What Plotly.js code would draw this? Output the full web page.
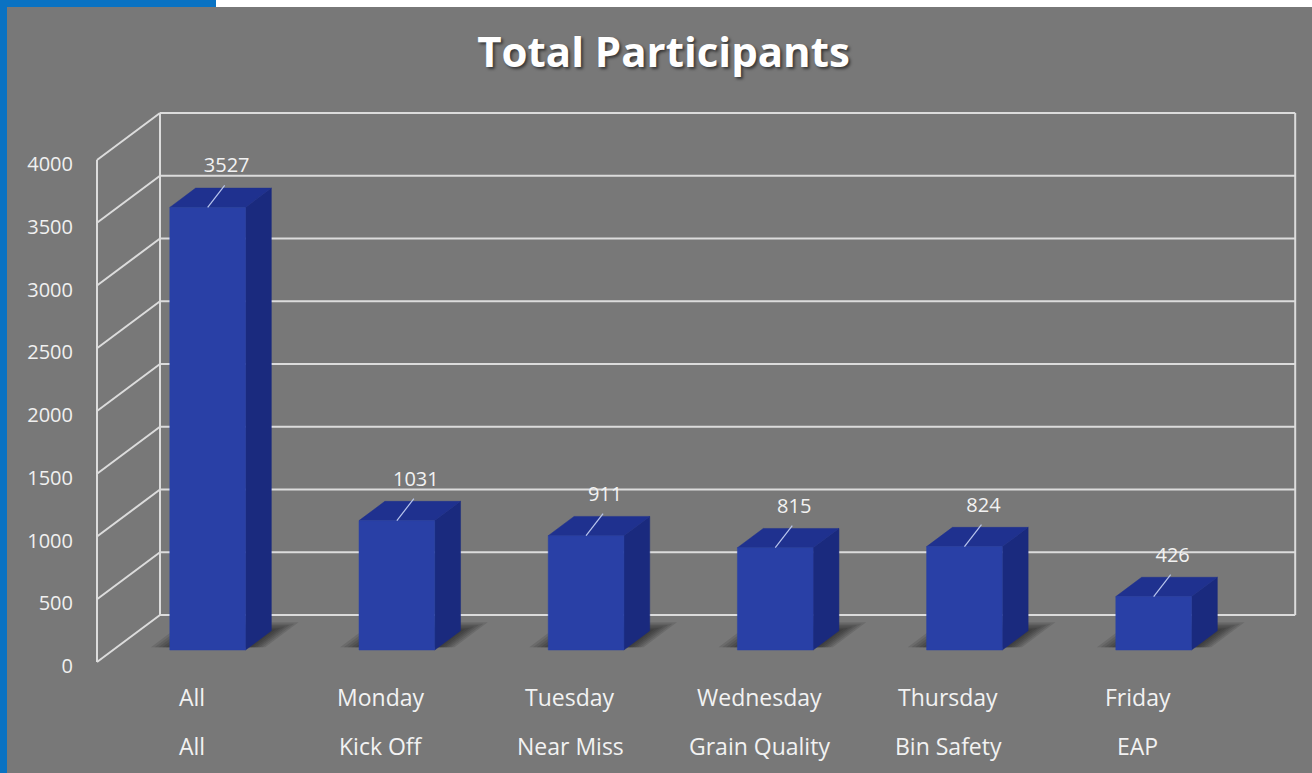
<!DOCTYPE html>
<html>
<head>
<meta charset="utf-8">
<script src="https://cdn.plot.ly/plotly-3.0.1.min.js"></script>
<style>
  html, body { margin: 0; padding: 0; width: 1312px; height: 773px; overflow: hidden; background: #787878; }
  #strip-left { position: absolute; left: 0; top: 0; width: 7px; height: 773px; background: #0a72c2; }
  #strip-top { position: absolute; left: 0; top: 0; width: 216px; height: 7px; background: #0a72c2; }
  #strip-white { position: absolute; left: 216px; top: 0; width: 1096px; height: 7px; background: #ffffff; }
  #chart { position: absolute; left: 0; top: 0; width: 1312px; height: 773px; }
</style>
</head>
<body>
<div id="strip-left"></div>
<div id="strip-top"></div>
<div id="strip-white"></div>
<div id="chart"></div>
<script>
// ---------------- data ----------------
const dayLabels = ['All', 'Monday', 'Tuesday', 'Wednesday', 'Thursday', 'Friday'];
const topicLabels = ['All', 'Kick Off', 'Near Miss', 'Grain Quality', 'Bin Safety', 'EAP'];
const participants = [3527, 1031, 911, 815, 824, 426];
const yTickValues = [0, 500, 1000, 1500, 2000, 2500, 3000, 3500, 4000];
const yTickLabels = ['0', '500', '1000', '1500', '2000', '2500', '3000', '3500', '4000'];

// ---------------- geometry (pseudo 3D projection) ----------------
const W = 1312, H = 773;
const PLOT_L = 90, PLOT_R = 1305, PLOT_T = 95, PLOT_B = 682;
const FRONT_X_PX = 97, FRONT_Y_PX = 662;     // pixel of (x=-0.5, y=0) on the front plane
const PX_PER_X = 189.2, PX_PER_Y = 0.1255;
const DX = 63 / PX_PER_X;                     // full depth offset in x units
const DY = 47 / PX_PER_Y;                     // full depth offset in y units
const D1 = 0.255, D2 = 0.665;                 // bar depth (front / back)
const HW = 0.2;                               // bar half width
const nCat = dayLabels.length;
const yMax = yTickValues[yTickValues.length - 1];

const xRange = [-0.5 - (FRONT_X_PX - PLOT_L) / PX_PER_X, -0.5 + (PLOT_R - FRONT_X_PX) / PX_PER_X];
const yRange = [-(PLOT_B - FRONT_Y_PX) / PX_PER_Y, (FRONT_Y_PX - PLOT_T) / PX_PER_Y];

function P(x, y, d) { return [x + d * DX, y + d * DY]; }

const traces = [];

// walls and gridlines
(function () {
  const xs = [], ys = [];
  const xl = -0.5, xr = nCat - 0.5;
  function seg(a, b) { xs.push(a[0], b[0], null); ys.push(a[1], b[1], null); }
  yTickValues.forEach(v => {
    seg(P(xl, v, 1), P(xr, v, 1));   // back wall gridline
    seg(P(xl, v, 0), P(xl, v, 1));   // side wall gridline
  });
  seg(P(xl, 0, 0), P(xl, yMax, 0));
  seg(P(xl, 0, 1), P(xl, yMax, 1));
  seg(P(xr, 0, 1), P(xr, yMax, 1));
  traces.push({ type: 'scatter', mode: 'lines', x: xs, y: ys, hoverinfo: 'skip',
    line: { color: '#dcdcdc', width: 2 }, showlegend: false, cliponaxis: false });
})();

// soft floor shadows (stacked translucent layers)
for (let k = 6; k >= 1; k--) {
  const xs = [], ys = [];
  const exL = 0.02 * k, exR = 0.014 * k, dBack = 0.03 * k;
  participants.forEach((v, i) => {
    const x0 = i - HW - exL, x1 = i + HW + exR;
    const da = D1 + 0.06, db = D2 + dBack;
    const pts = [P(x0, 0, da), P(x1, 0, da), P(x1, 0, db), P(x0, 0, db), P(x0, 0, da)];
    pts.forEach(p => { xs.push(p[0]); ys.push(p[1]); });
    xs.push(null); ys.push(null);
  });
  traces.push({ type: 'scatter', mode: 'lines', x: xs, y: ys, fill: 'toself',
    fillcolor: 'rgba(20,20,20,0.13)', line: { width: 0, color: 'rgba(0,0,0,0)' },
    hoverinfo: 'skip', showlegend: false });
}

// bars: top, side, front faces
function faceTrace(kind, color) {
  const xs = [], ys = [];
  participants.forEach((v, i) => {
    const x0 = i - HW, x1 = i + HW;
    let pts;
    if (kind === 'front') pts = [P(x0, 0, D1), P(x1, 0, D1), P(x1, v, D1), P(x0, v, D1)];
    if (kind === 'side') pts = [P(x1, 0, D1), P(x1, 0, D2), P(x1, v, D2), P(x1, v, D1)];
    if (kind === 'top') pts = [P(x0, v, D1), P(x1, v, D1), P(x1, v, D2), P(x0, v, D2)];
    pts.push(pts[0]);
    pts.forEach(p => { xs.push(p[0]); ys.push(p[1]); });
    xs.push(null); ys.push(null);
  });
  return { type: 'scatter', mode: 'lines', x: xs, y: ys, fill: 'toself', fillcolor: color,
    line: { width: 0.5, color: color }, hoverinfo: 'skip', showlegend: false };
}
traces.push(faceTrace('side', '#1a2a7e'));
traces.push(faceTrace('top', '#1f318f'));
traces.push(faceTrace('front', '#2940a6'));

// leader lines and value labels
const LEAD_DX = 17 / PX_PER_X, LEAD_DY = 22 / PX_PER_Y;
const LABEL_DX = 19 / PX_PER_X, LABEL_DY = 40 / PX_PER_Y;
(function () {
  const xs = [], ys = [];
  participants.forEach((v, i) => {
    const a = P(i, v, D1);
    xs.push(a[0], a[0] + LEAD_DX, null);
    ys.push(a[1], a[1] + LEAD_DY, null);
  });
  traces.push({ type: 'scatter', mode: 'lines', x: xs, y: ys, hoverinfo: 'skip',
    line: { color: '#b9c6ee', width: 1.2 }, showlegend: false });
  traces.push({ type: 'scatter', mode: 'text',
    x: participants.map((v, i) => P(i, v, D1)[0] + LABEL_DX),
    y: participants.map((v, i) => P(i, v, D1)[1] + LABEL_DY),
    text: participants.map(v => String(v)), textposition: 'middle center',
    textfont: { family: 'Open Sans, sans-serif', size: 20, color: '#f2f2f2' },
    hoverinfo: 'skip', showlegend: false, cliponaxis: false });
})();

// category labels (two rows)
const plotH = PLOT_B - PLOT_T;
const annotations = [];
dayLabels.forEach((t, i) => {
  annotations.push({ x: i, xref: 'x', y: (PLOT_B - 697) / plotH, yref: 'paper', text: t,
    showarrow: false, xanchor: 'center', yanchor: 'middle',
    font: { family: 'Open Sans, sans-serif', size: 23, color: '#f2f2f2' } });
  annotations.push({ x: i, xref: 'x', y: (PLOT_B - 746) / plotH, yref: 'paper', text: topicLabels[i],
    showarrow: false, xanchor: 'center', yanchor: 'middle',
    font: { family: 'Open Sans, sans-serif', size: 23, color: '#f2f2f2' } });
});

const layout = {
  width: W, height: H,
  margin: { l: PLOT_L, r: W - PLOT_R, t: PLOT_T, b: H - PLOT_B, pad: 0 },
  paper_bgcolor: 'rgba(0,0,0,0)', plot_bgcolor: 'rgba(0,0,0,0)',
  title: { text: 'Total Participants', x: 663.5 / W, xanchor: 'center', xref: 'container',
    y: 1 - 52 / H, yanchor: 'middle', yref: 'container',
    font: { family: 'Open Sans, sans-serif', size: 42, weight: 700, color: '#ffffff',
      shadow: '2px 2px 3px rgba(0,0,0,0.55)' } },
  xaxis: { range: xRange, showgrid: false, zeroline: false, showline: false,
    showticklabels: false, ticks: '', fixedrange: true },
  yaxis: { range: yRange, showgrid: false, zeroline: false, showline: false,
    tickmode: 'array', tickvals: yTickValues, ticktext: yTickLabels, ticks: '',
    ticklabelstandoff: 16, ticklabelshift: 4,
    tickfont: { family: 'Open Sans, sans-serif', size: 20, color: '#f0f0f0' },
    fixedrange: true },
  annotations: annotations,
  showlegend: false
};

Plotly.newPlot('chart', traces, layout, { displayModeBar: false, staticPlot: true });
</script>
</body>
</html>
